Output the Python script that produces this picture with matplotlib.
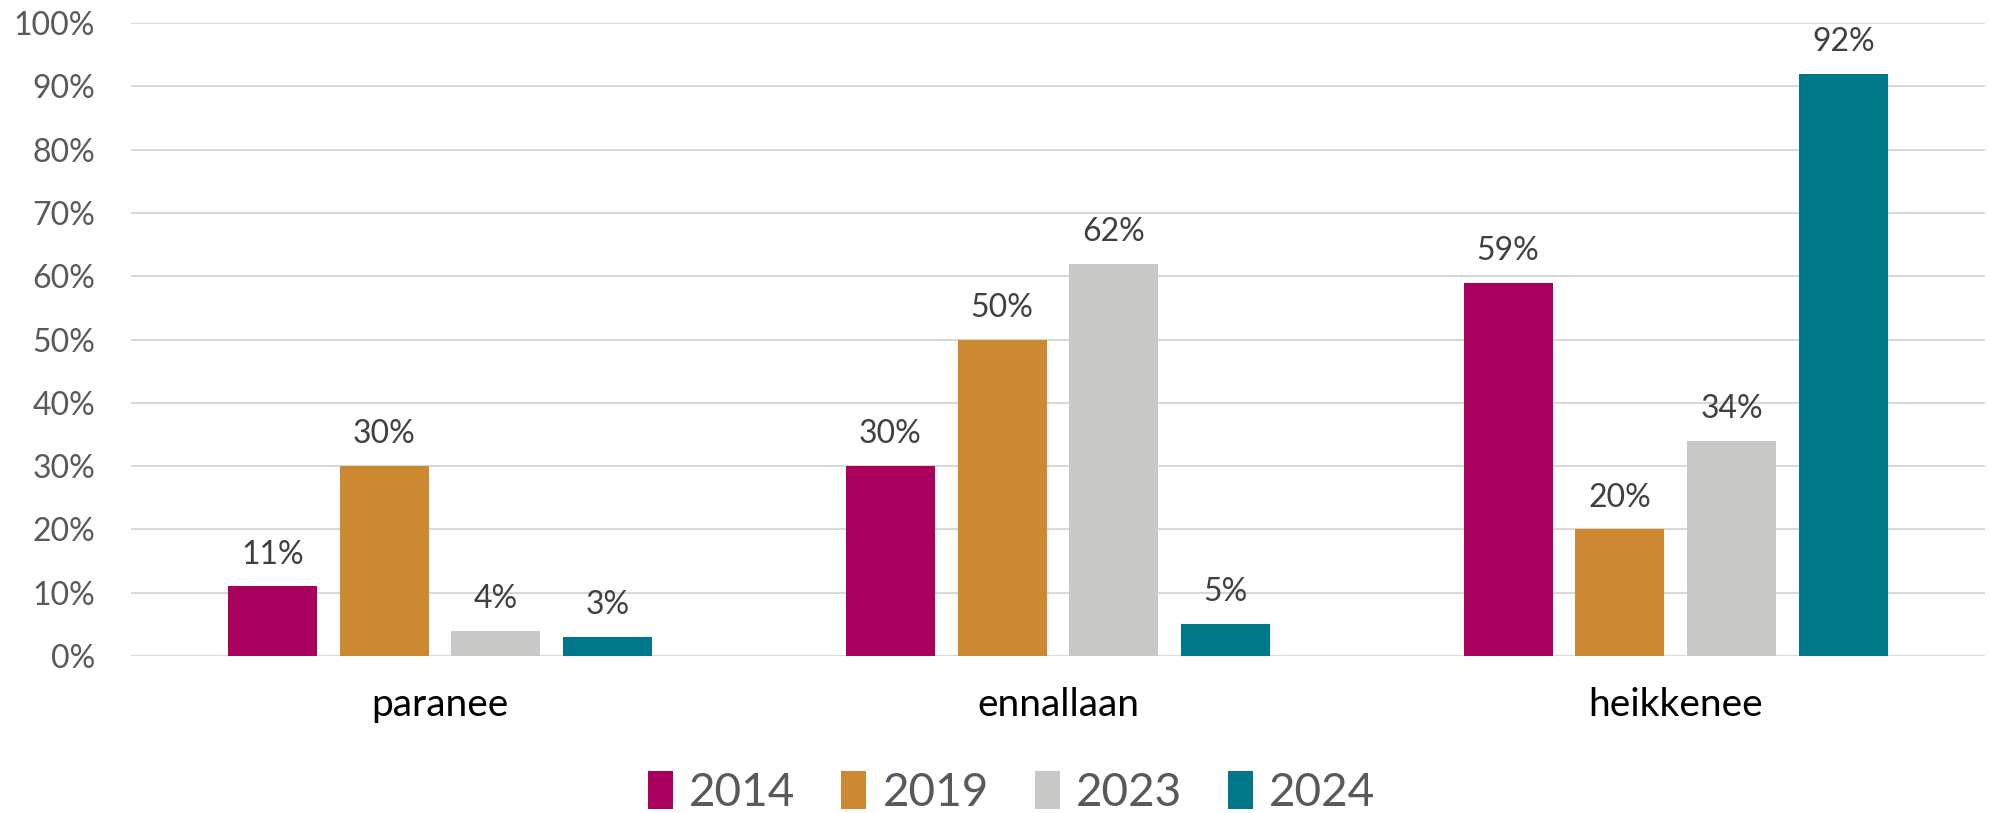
import numpy as np
import matplotlib.pyplot as plt
from matplotlib.ticker import PercentFormatter

categories = ['paranee', 'ennallaan', 'heikkenee']
years = ['2014', '2019', '2023', '2024']
values = {
    '2014': [11, 30, 59],
    '2019': [30, 50, 20],
    '2023': [4, 62, 34],
    '2024': [3, 5, 92],
}
colors = ['#A9005D', '#CC8931', '#C8C8C6', '#00788A']

plt.rcParams['font.family'] = ['Lato', 'DejaVu Sans']

fig = plt.figure(figsize=(19.89, 8.13), dpi=100)
ax = fig.add_axes([0.0659, 0.193, 0.932, 0.7787])

x = np.arange(len(categories))
pitch = 0.181
width = 0.144
for i, yr in enumerate(years):
    pos = x + (i - 1.5) * pitch
    bars = ax.bar(pos, values[yr], width, color=colors[i], label=yr, zorder=3)
    for b, v in zip(bars, values[yr]):
        ax.annotate(f'{v}%', (b.get_x() + b.get_width() / 2, v),
                    xytext=(0, 23), textcoords='offset points',
                    ha='center', va='center', fontsize=23, color='#404040')

ax.set_xlim(-0.5, 2.5)
ax.set_ylim(0, 100)
ax.set_yticks(range(0, 101, 10))
ax.yaxis.set_major_formatter(PercentFormatter(decimals=0))
ax.set_xticks(x)
ax.set_xticklabels(categories)
ax.tick_params(axis='y', length=0, pad=26, labelsize=23, labelcolor='#595959')
ax.tick_params(axis='x', length=0, pad=22, labelsize=28, labelcolor='#000000')
ax.grid(axis='y', color='#D9D9D9', linewidth=1.5, zorder=0)
for s in ax.spines.values():
    s.set_visible(False)

leg = ax.legend(loc='center', bbox_to_anchor=(0.475, -0.215), ncol=4, frameon=False,
                prop={'family': ['Liberation Sans Narrow', 'Lato'], 'size': 33},
                handlelength=0.55, handleheight=0.9, handletextpad=0.35,
                columnspacing=1.0, labelcolor='#595959')

fig.savefig('out.png', dpi=100)
